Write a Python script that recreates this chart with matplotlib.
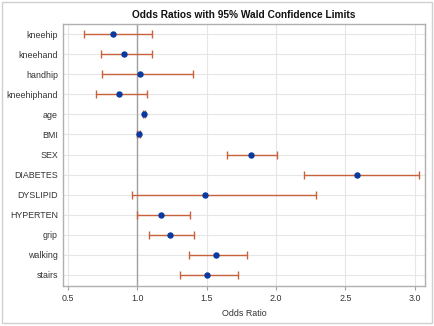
import matplotlib
matplotlib.use("Agg")
import matplotlib.pyplot as plt
from matplotlib.patches import Rectangle

effects = ["kneehip", "kneehand", "handhip", "kneehiphand", "age", "BMI", "SEX",
           "DIABETES", "DYSLIPID", "HYPERTEN", "grip", "walking", "stairs"]
odds_ratio = [0.826, 0.904, 1.02, 0.868, 1.048, 1.01, 1.818, 2.58, 1.49, 1.17, 1.237, 1.57, 1.503]
lower_cl = [0.615, 0.737, 0.746, 0.705, 1.040, 1.000, 1.644, 2.20, 0.966, 0.998, 1.086, 1.373, 1.311]
upper_cl = [1.110, 1.108, 1.400, 1.072, 1.056, 1.020, 2.008, 3.027, 2.290, 1.380, 1.407, 1.792, 1.725]
xticks = [0.5, 1.0, 1.5, 2.0, 2.5, 3.0]

plt.rcParams['font.family'] = ['Liberation Sans', 'DejaVu Sans']

fig = plt.figure(figsize=(4.34, 3.26), dpi=100)
ax = fig.add_axes([0.145, 0.123, 0.834, 0.803])

ypos = list(range(len(effects)))
err_lo = [o - l for o, l in zip(odds_ratio, lower_cl)]
err_hi = [u - o for o, u in zip(odds_ratio, upper_cl)]

ax.axvline(1.0, color="#a0a0a0", lw=1.0, zorder=1)
ax.errorbar(odds_ratio, ypos, xerr=[err_lo, err_hi], fmt="none",
            ecolor="#c8623c", elinewidth=1.0, capsize=3, capthick=1.0, zorder=2)
ax.plot(odds_ratio, ypos, "o", color="#0a3aa0", ms=3.6, zorder=3)

ax.set_yticks(ypos)
ax.set_yticklabels(effects, fontsize=6.4, color="#333333")
ax.set_xticks(xticks)
ax.set_xticklabels([f"{t:.1f}" for t in xticks], fontsize=6.4, color="#333333")
ax.set_xlim(0.465, 3.072)
ax.set_ylim(len(effects) - 0.45, -0.5)
ax.tick_params(axis="y", length=0, pad=3.5)
ax.tick_params(axis="x", length=3, color="#a0a0a0", pad=3)
ax.grid(True, color="#e6e6e6", lw=0.8, zorder=0)
ax.set_axisbelow(True)
for s in ax.spines.values():
    s.set_color("#b0b0b0")
    s.set_linewidth(1.0)
ax.set_xlabel("Odds Ratio", fontsize=6.4, color="#333333", labelpad=4)
fig.text(0.5 * (0.145 + 0.979), 1 - 15 / 326, "Odds Ratios with 95% Wald Confidence Limits",
         ha="center", va="center", fontsize=7.3, fontweight="bold", color="#111111")

fig.add_artist(Rectangle((2 / 434, 3 / 326), 1 - 4 / 434, 1 - 5 / 326, transform=fig.transFigure,
                         fill=False, edgecolor="#d0d0d0", lw=1.0))

fig.savefig("out.png", dpi=100)
